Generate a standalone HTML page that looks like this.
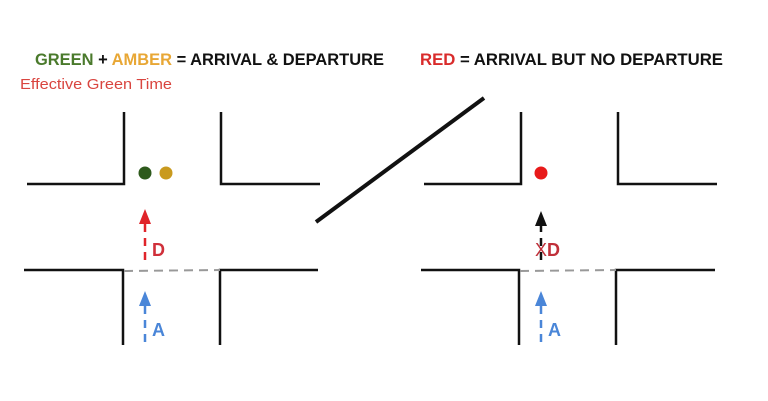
<!DOCTYPE html>
<html><head><style>
html,body{margin:0;padding:0;background:#fff;width:768px;height:401px;overflow:hidden}
svg text{font-family:"Liberation Sans",Arial,sans-serif}
</style></head><body>
<svg width="768" height="401" viewBox="0 0 768 401" xmlns="http://www.w3.org/2000/svg">
<text x="35" y="65" font-size="16.5" font-weight="bold" textLength="349" lengthAdjust="spacingAndGlyphs"><tspan fill="#4a7a2c">GREEN</tspan><tspan fill="#111"> + </tspan><tspan fill="#e8a735">AMBER</tspan><tspan fill="#111"> = ARRIVAL &amp; DEPARTURE</tspan></text>
<text x="20" y="89" font-size="15" fill="#d9453f" textLength="152" lengthAdjust="spacingAndGlyphs">Effective Green Time</text>
<text x="420" y="65" font-size="16.5" font-weight="bold" textLength="303" lengthAdjust="spacingAndGlyphs"><tspan fill="#d92b2b">RED</tspan><tspan fill="#111"> = ARRIVAL BUT NO  DEPARTURE</tspan></text>
<g stroke="#111" stroke-width="2.5" fill="none">
<polyline points="124,112 124,184 27,184"/>
<polyline points="221,112 221,184 320,184"/>
<polyline points="24,270 123,270 123,345"/>
<polyline points="318,270 220,270 220,345"/>
<polyline points="521,112 521,184 424,184"/>
<polyline points="618,112 618,184 717,184"/>
<polyline points="421,270 519,270 519,345"/>
<polyline points="715,270 616,270 616,345"/>
<line x1="316" y1="222" x2="484" y2="98" stroke-width="4"/>
</g>
<g stroke="#999" stroke-width="2" stroke-dasharray="9,6">
<line x1="124" y1="271" x2="220" y2="270"/>
<line x1="520" y1="271" x2="616" y2="270"/>
</g>
<circle cx="145" cy="173" r="6.5" fill="#2e5a1c"/>
<circle cx="166" cy="173" r="6.5" fill="#c99a1e"/>
<circle cx="541" cy="173" r="6.5" fill="#e81a1a"/>
<g stroke="#e0242a" stroke-width="2.5" stroke-dasharray="8,6">
<line x1="145" y1="224" x2="145" y2="262"/>
</g>
<polygon points="145,209 139,224 151,224" fill="#e0242a"/>
<text x="152" y="256" font-size="18" font-weight="bold" fill="#d0303a">D</text>
<g stroke="#4a86d8" stroke-width="2.5" stroke-dasharray="8,6">
<line x1="145" y1="306" x2="145" y2="345"/>
<line x1="541" y1="306" x2="541" y2="345"/>
</g>
<polygon points="145,291 139,306 151,306" fill="#4a86d8"/>
<polygon points="541,291 535,306 547,306" fill="#4a86d8"/>
<text x="152" y="336" font-size="18" font-weight="bold" fill="#4a86d8">A</text>
<text x="548" y="336" font-size="18" font-weight="bold" fill="#4a86d8">A</text>
<g stroke="#111" stroke-width="2.5" stroke-dasharray="8,6">
<line x1="541" y1="224" x2="541" y2="262"/>
</g>
<polygon points="541,211 535,226 547,226" fill="#111"/>
<text x="535" y="256" font-size="18" fill="#c0303a">X</text>
<text x="547" y="256" font-size="18" font-weight="bold" fill="#c0303a">D</text>
</svg>
</body></html>
